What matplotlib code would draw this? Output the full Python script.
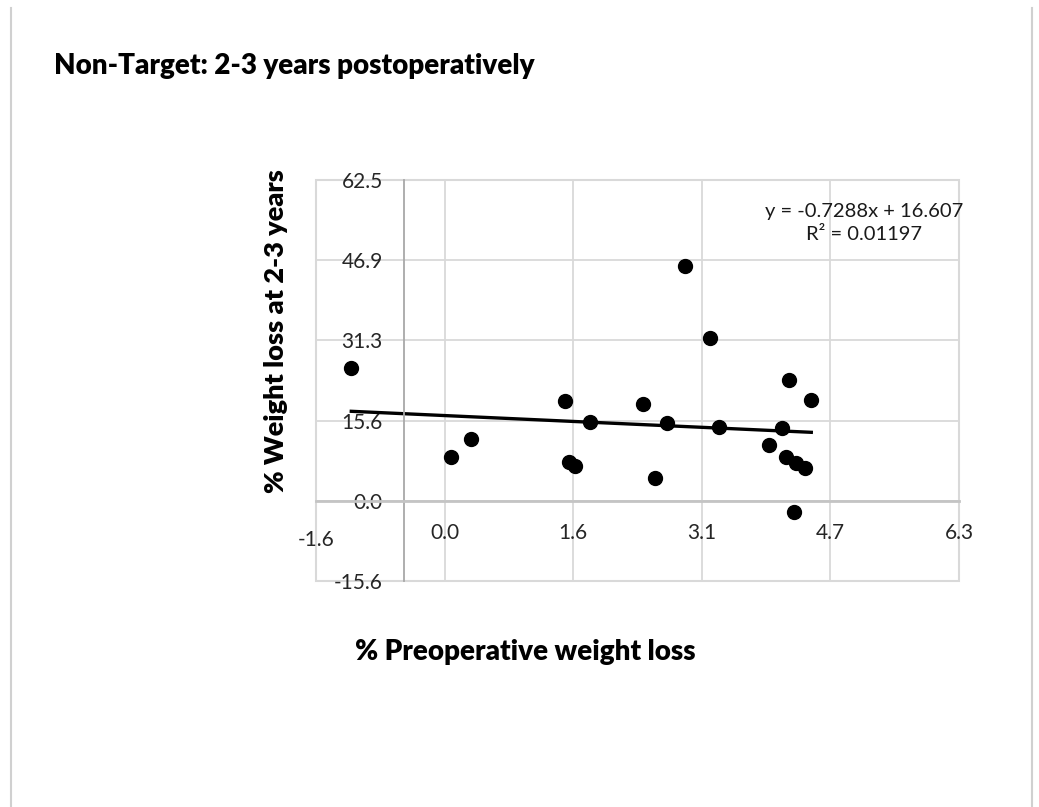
import numpy as np
import matplotlib
matplotlib.use("Agg")
import matplotlib.pyplot as plt
from matplotlib.patches import Rectangle
from matplotlib.lines import Line2D
from matplotlib.transforms import ScaledTranslation

# ---------------- data ----------------
preop_loss = [-1.140, 0.073, 0.318, 1.466, 1.518, 1.592, 1.775, 2.427, 2.569, 2.712,
              2.940, 3.243, 3.351, 3.961, 4.116, 4.165, 4.206, 4.266, 4.287, 4.397, 4.479]
loss_2_3y = [25.85, 8.62, 12.02, 19.42, 7.52, 6.69, 15.43, 18.90, 4.44, 15.24,
             45.70, 31.64, 14.47, 10.86, 14.14, 8.62, 23.60, -2.12, 7.33, 6.37, 19.55]

trend_slope = -0.7288
trend_intercept = 16.607
r_squared = 0.01197

x_tick_labels = ["-1.6", "0.0", "1.6", "3.1", "4.7", "6.3"]
y_tick_labels = ["-15.6", "0.0", "15.6", "31.3", "46.9", "62.5"]
x_min, x_step = -1.5708, 1.5708
y_min, y_step = -15.625, 15.625

title = "Non-Target: 2-3 years postoperatively"
x_label = "% Preoperative weight loss"
y_label = "% Weight loss at 2-3 years"

# ---------------- figure ----------------
W, H = 1039, 807
fig = plt.figure(figsize=(W / 100, H / 100), dpi=100)
fig.patch.set_facecolor("white")

# outer frame lines
fig.add_artist(Line2D([11 / W, 11 / W], [0, 1 - 8 / H], transform=fig.transFigure,
                      color="#d0d0d0", lw=1.5))
fig.add_artist(Line2D([1032 / W, 1032 / W], [0, 1 - 8 / H], transform=fig.transFigure,
                      color="#d0d0d0", lw=1.5))

L, R, T, B = 316, 959, 180, 581
ax = fig.add_axes([L / W, 1 - B / H, (R - L) / W, (B - T) / H])

x_ticks = [x_min + i * x_step for i in range(len(x_tick_labels))]
y_ticks = [y_min + i * y_step for i in range(len(y_tick_labels))]
ax.set_xlim(x_ticks[0], x_ticks[-1])
ax.set_ylim(y_ticks[0], y_ticks[-1])
ax.set_xticks(x_ticks)
ax.set_xticklabels(x_tick_labels)
ax.set_yticks(y_ticks)
ax.set_yticklabels(y_tick_labels)

ax.grid(True, color="#d9d9d9", lw=1.3, zorder=0)
ax.set_axisbelow(True)

for s in ["top", "right"]:
    ax.spines[s].set_visible(False)
ax.spines["bottom"].set_position(("data", 0))
ax.spines["bottom"].set_color("#c4c4c4")
ax.spines["bottom"].set_linewidth(2.0)
ax.spines["left"].set_position(("data", -0.50))
ax.spines["left"].set_color("#a8a8a8")
ax.spines["left"].set_linewidth(1.3)

ax.add_patch(Rectangle((0, 0), 1, 1, transform=ax.transAxes, fill=False,
                       edgecolor="#d9d9d9", lw=1.5, clip_on=False, zorder=0))

tick_font = "Lato"
ax.tick_params(axis="x", length=0, pad=16, labelsize=15, labelcolor="#262626")
ax.tick_params(axis="y", length=0, pad=15, labelsize=15, labelcolor="#262626")
for lbl in ax.get_xticklabels() + ax.get_yticklabels():
    lbl.set_fontfamily(tick_font)
# the first x label sits a little lower in the original
first = ax.xaxis.get_major_ticks()[0].label1
first.set_transform(first.get_transform() + ScaledTranslation(0, -0.07, fig.dpi_scale_trans))

# scatter points
ax.plot(preop_loss, loss_2_3y, "o", color="black", markersize=10, zorder=3, clip_on=False)

# trendline over data range
tx = np.array([min(preop_loss), max(preop_loss)])
ax.plot(tx, trend_slope * tx + trend_intercept, color="black", lw=2.4, zorder=2)

# equation label
eq = f"y = {trend_slope}x + {trend_intercept}\nR\u00b2 = {r_squared}"
fig.text(864 / W, 1 - 223 / H, eq, ha="center", va="center", multialignment="center",
         fontsize=14.5, family="Lato", color="#1a1a1a", linespacing=1.5)

# titles
fig.text(54 / W, 1 - 66 / H, title, ha="left", va="center", fontsize=20,
         fontweight="heavy", family="Lato", color="black")
fig.text(525 / W, 1 - 652 / H, x_label, ha="center", va="center", fontsize=20,
         fontweight="heavy", family="Lato", color="black")
fig.text(276 / W, 1 - 331 / H, y_label, ha="center", va="center", fontsize=19.5,
         fontweight="heavy", family="Lato", color="black", rotation=90)

fig.savefig("out.png", dpi=100)
